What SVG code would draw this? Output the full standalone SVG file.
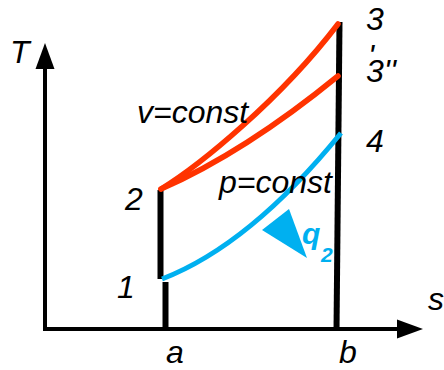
<svg xmlns="http://www.w3.org/2000/svg" width="444" height="370" viewBox="0 0 444 370">
<style>
.lbl{font-family:"Liberation Sans",Arial,sans-serif;font-style:italic;font-size:32px;fill:#000}
.q{font-family:"Liberation Sans",Arial,sans-serif;font-style:italic;font-weight:bold;fill:#00b0f0}
.ax{stroke:#000;stroke-width:4;fill:none}
.blk{stroke:#000;stroke-width:6;fill:none}
.red{stroke:#ff3300;stroke-width:5.5;fill:none;stroke-linecap:round}
.blue{stroke:#00b0f0;stroke-width:5;fill:none}
</style>
<rect width="444" height="370" fill="#fff"/>
<g id="axes">
<line class="ax" x1="45" y1="331" x2="45" y2="66"/>
<polygon points="45,43 35.5,69 54.5,69" fill="#000"/>
<line class="ax" x1="43" y1="329" x2="400" y2="329"/>
<polygon points="423,329 397,319.5 397,338.5" fill="#000"/>
</g>
<g id="connectors">
<line class="blk" x1="160.5" y1="190" x2="160.5" y2="279"/>
<line class="blk" x1="165.5" y1="282" x2="165.5" y2="330"/>
<line class="blk" x1="339.5" y1="22" x2="336.5" y2="330"/>
<path class="red" d="M161,189 C200,165 280,100 338,24"/>
<path class="red" d="M161,189 Q245,152 338,76"/>
<path class="blue" d="M162,279 Q250,245 341,133"/>
<polygon points="289,209 262,230 307,258" fill="#00b0f0"/>
</g>
<g id="labels">
<text class="lbl" x="10" y="63">T</text>
<text class="lbl" x="428" y="310">s</text>
<text class="lbl" x="166" y="363">a</text>
<text class="lbl" x="339" y="363">b</text>
<text class="lbl" x="117" y="298">1</text>
<text class="lbl" x="125" y="210">2</text>
<text class="lbl" x="366" y="30">3</text>
<text class="lbl" x="368" y="67">'</text>
<text class="lbl" x="366" y="82">3''</text>
<text class="lbl" x="366" y="152">4</text>
<text class="lbl" x="137" y="123">v=const</text>
<text class="lbl" x="219" y="193">p=const</text>
<text class="q" x="302" y="244" font-size="30">q<tspan x="321" y="262" font-size="21">2</tspan></text>
</g>
</svg>
